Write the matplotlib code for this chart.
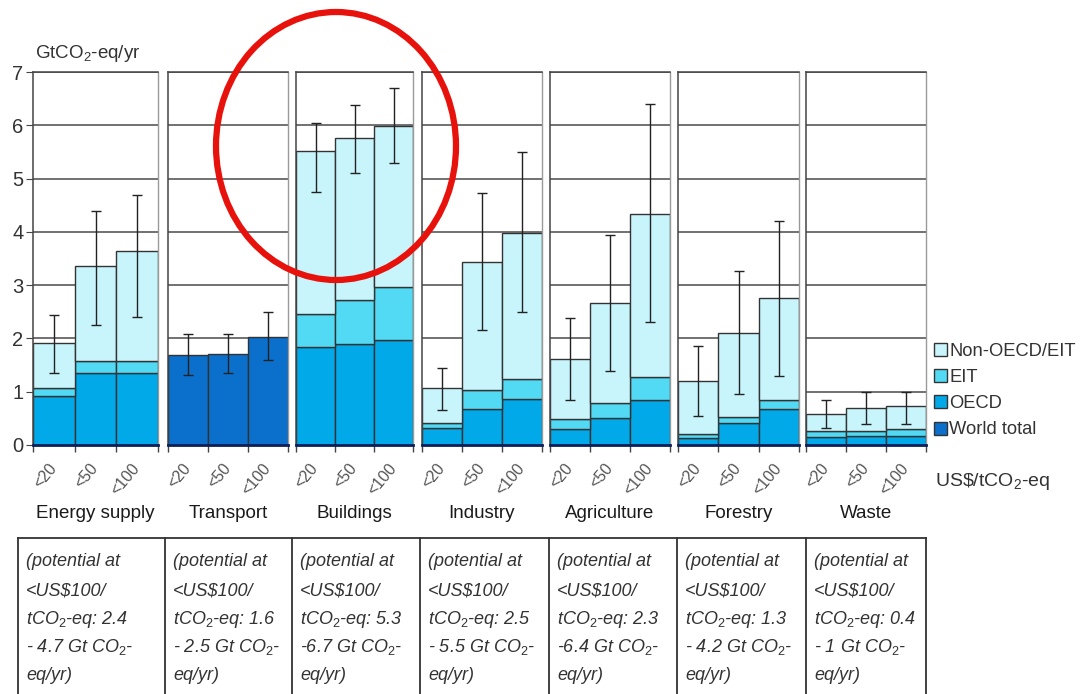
import matplotlib
matplotlib.use("Agg")
import matplotlib.pyplot as plt
from matplotlib.patches import Patch, Ellipse
from matplotlib.lines import Line2D

plt.rcParams["font.family"] = ["Liberation Sans", "DejaVu Sans"]
plt.rcParams["mathtext.fontset"] = "custom"
plt.rcParams["mathtext.rm"] = "Liberation Sans"
plt.rcParams["mathtext.it"] = "Liberation Sans:italic"
plt.rcParams["mathtext.bf"] = "Liberation Sans:bold"

# ---- data (GtCO2-eq/yr) ----
sectors = ["Energy supply", "Transport", "Buildings", "Industry",
           "Agriculture", "Forestry", "Waste"]
price_labels = ["<20", "<50", "<100"]

oecd = [[0.92, 1.35, 1.35], [0, 0, 0], [1.84, 1.90, 1.97], [0.32, 0.68, 0.86],
        [0.30, 0.51, 0.85], [0.14, 0.42, 0.68], [0.15, 0.17, 0.17]]
eit = [[0.15, 0.22, 0.22], [0, 0, 0], [0.62, 0.82, 1.00], [0.10, 0.35, 0.38],
       [0.19, 0.28, 0.43], [0.06, 0.11, 0.17], [0.11, 0.10, 0.13]]
non_oecd = [[0.85, 1.78, 2.08], [0, 0, 0], [3.06, 3.05, 3.01], [0.65, 2.41, 2.74],
            [1.13, 1.88, 3.06], [1.00, 1.57, 1.91], [0.32, 0.42, 0.43]]
world_total = [[0, 0, 0], [1.68, 1.71, 2.03], [0, 0, 0], [0, 0, 0],
               [0, 0, 0], [0, 0, 0], [0, 0, 0]]

err_low = [[1.35, 2.26, 2.4], [1.32, 1.35, 1.6], [4.75, 5.11, 5.3], [0.66, 2.16, 2.5],
           [0.85, 1.39, 2.3], [0.55, 0.96, 1.3], [0.32, 0.40, 0.4]]
err_high = [[2.44, 4.40, 4.7], [2.09, 2.09, 2.5], [6.05, 6.39, 6.7], [1.45, 4.72, 5.5],
            [2.39, 3.95, 6.4], [1.86, 3.27, 4.2], [0.85, 1.00, 1.0]]
range_sep = ["- ", "- ", "-", "- ", "-", "- ", "- "]

# ---- styling ----
C_NON = "#c8f5fb"
C_EIT = "#52d9f3"
C_OECD = "#02a9e8"
C_WORLD = "#0b6fcc"
EDGE = "#333333"

W, H = 1083, 694
fig = plt.figure(figsize=(W / 100, H / 100), dpi=100)
fig.patch.set_facecolor("white")


def fx(px):
    return px / W


def fy(py):
    return 1 - py / H


panel_px = [(33, 158), (168, 288), (296, 413), (422, 542),
            (550, 670), (678, 799), (806, 926)]
y_top, y_bot = 72, 445
xs = [0.5, 1.5, 2.5]

for i, (l, r) in enumerate(panel_px):
    ax = fig.add_axes([fx(l), fy(y_bot), (r - l) / W, (y_bot - y_top) / H])
    ax.set_xlim(0, 3)
    ax.set_ylim(0, 7)
    ax.set_axisbelow(True)
    ax.set_yticks(range(8))
    ax.grid(axis="y", color="#4a4a4a", lw=1.1)

    base = [0, 0, 0]
    for vals, col in ((world_total[i], C_WORLD), (oecd[i], C_OECD),
                      (eit[i], C_EIT), (non_oecd[i], C_NON)):
        if any(v > 0 for v in vals):
            ax.bar(xs, vals, width=1.0, bottom=base, color=col,
                   edgecolor=EDGE, lw=1.0, zorder=2)
            base = [b + v for b, v in zip(base, vals)]

    lo = [base[k] - err_low[i][k] for k in range(3)]
    hi = [err_high[i][k] - base[k] for k in range(3)]
    ax.errorbar(xs, base, yerr=[lo, hi], fmt="none", ecolor="#222222",
                elinewidth=1.0, capsize=3.8, capthick=1.0, zorder=3)

    for s in ("left", "top"):
        ax.spines[s].set_color("#444444")
        ax.spines[s].set_linewidth(1.1)
    ax.spines["right"].set_color("#9a9a9a")
    ax.spines["right"].set_linewidth(1.0)
    ax.spines["bottom"].set_color("#0a1f5c")
    ax.spines["bottom"].set_linewidth(2.0)

    ax.set_xticks([0, 1, 2, 3], minor=True)
    ax.set_xticks(xs)
    ax.set_xticklabels(price_labels, rotation=50, ha="right", va="center",
                       rotation_mode="anchor", fontsize=11.5, color="#555555")
    ax.tick_params(axis="x", which="major", length=0, pad=15)
    ax.tick_params(axis="x", which="minor", length=5, color="#444444", width=1)

    if i == 0:
        ax.tick_params(axis="y", length=5, color="#444444", labelsize=14.5,
                       labelcolor="#333333", pad=2)
    else:
        ax.tick_params(axis="y", length=0, labelleft=False)

    fig.text(fx((l + r) / 2), fy(514), sectors[i], ha="center", va="center",
             fontsize=13.5, color="#1a1a1a")

# axis title and price unit
fig.text(fx(35), fy(53), r"GtCO$_2$-eq/yr", ha="left", va="center",
         fontsize=13.5, color="#333333")
fig.text(fx(935), fy(482), r"US\$/tCO$_2$-eq", ha="left", va="center",
         fontsize=14, color="#333333")

# legend
handles = [Patch(fc=C_NON, ec=EDGE, label="Non-OECD/EIT"),
           Patch(fc=C_EIT, ec=EDGE, label="EIT"),
           Patch(fc=C_OECD, ec=EDGE, label="OECD"),
           Patch(fc=C_WORLD, ec=EDGE, label="World total")]
fig.legend(handles=handles, loc="upper left", bbox_to_anchor=(fx(934), fy(343)),
           frameon=False, handlelength=0.72, handleheight=0.72, handletextpad=0.1,
           labelspacing=0.5, fontsize=13.2, borderaxespad=0, borderpad=0,
           labelcolor="#333333")

# potential table underneath
box_x = [18, 165, 292, 420, 549, 677, 806, 926]
tab_top = 538
fig.add_artist(Line2D([fx(box_x[0]), fx(box_x[-1])], [fy(tab_top), fy(tab_top)],
                      transform=fig.transFigure, color="#333333", lw=1.3))
for bx in box_x:
    fig.add_artist(Line2D([fx(bx), fx(bx)], [fy(tab_top), 0],
                          transform=fig.transFigure, color="#333333", lw=1.3))

row_y = [562, 591, 619, 647, 675]
for i in range(len(sectors)):
    lines = ["(potential at",
             "<US$100/",
             r"tCO$_\mathit{2}$-eq: " + f"{err_low[i][2]:g}",
             range_sep[i] + f"{err_high[i][2]:g}" + r" Gt CO$_\mathit{2}$-",
             "eq/yr)"]
    for t, yy in zip(lines, row_y):
        fig.text(fx(box_x[i] + 8), fy(yy), t, ha="left", va="center",
                 fontsize=13, style="italic", color="#333333")

# highlight ring around the buildings panel
fig.add_artist(Ellipse((fx(336), fy(146)), 240 / W, 268 / H,
                       transform=fig.transFigure, fill=False,
                       ec="#e8120c", lw=4.5, zorder=10))

fig.savefig("out.png", dpi=100, facecolor="white")
